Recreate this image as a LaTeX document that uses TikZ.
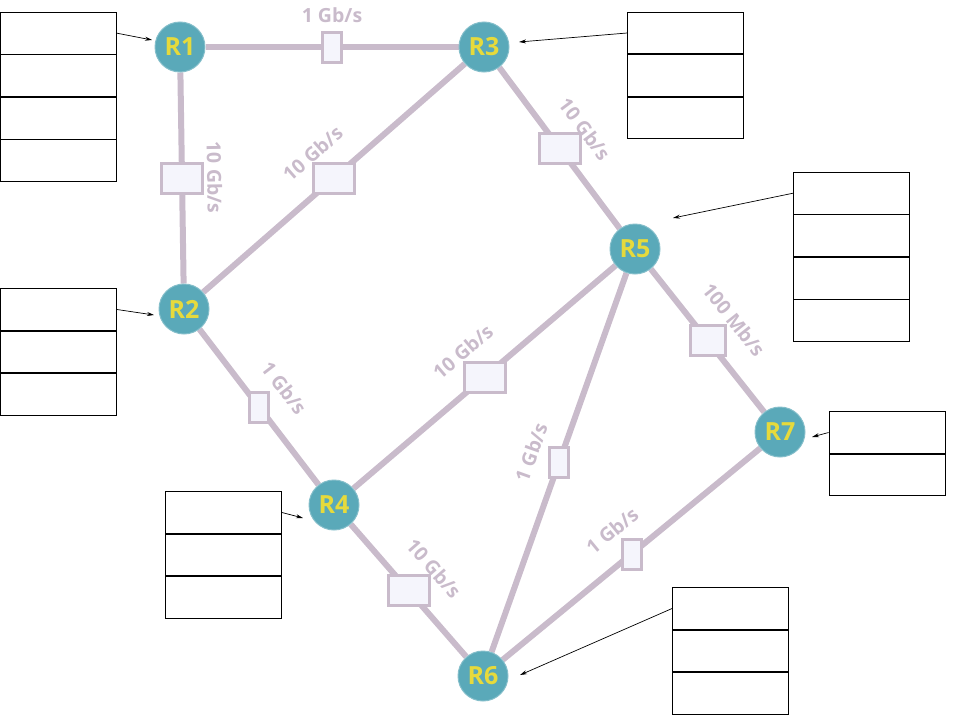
\documentclass[tikz,border=0pt]{standalone}
\usepackage{fontspec}
\setmainfont{Open Sans}
\usepackage{xcolor}
\usepackage{tikz}
\usetikzlibrary{positioning, arrows.meta, backgrounds}
\definecolor{linkcol}{HTML}{C9BBCB}
\definecolor{boxfill}{HTML}{F5F5FC}
\definecolor{routercol}{HTML}{5AA9B9}
\definecolor{routerrim}{HTML}{84BECA}
\definecolor{routertext}{HTML}{E6DA3C}

\begin{document}
\begin{tikzpicture}[x=1pt, y=-1pt,
	router/.style={circle, fill=routercol, draw=routerrim, line width=1pt, minimum size=50pt, inner sep=0pt,
		text=routertext, font=\bfseries\fontsize{25}{28}\selectfont},
	link/.style={linkcol, line width=6pt},
	wide/.style={rectangle, draw=linkcol, fill=boxfill, line width=3pt, minimum width=41pt, minimum height=30pt, inner sep=0pt},
	narrow/.style={wide, minimum width=19pt},
	rate/.style={text=linkcol, font=\bfseries\fontsize{19.5}{22}\selectfont, inner sep=1pt},
	cell/.style={rectangle, draw=black, fill=white, line width=0.9pt, minimum width=116pt, minimum height=41.6pt, inner sep=0pt},
	tip/.style={-{Stealth[length=7pt, width=4pt]}, line width=0.7pt}]
	\useasboundingbox (0,0) rectangle (960,720);
	% routers
	\node[router] at (180,47) (r1) {R1};
	\node[router] at (484,47) (r3) {R3};
	\node[router] at (184,309) (r2) {R2};
	\node[router] at (635,249) (r5) {R5};
	\node[router] at (334,505) (r4) {R4};
	\node[router] at (780,432) (r7) {R7};
	\node[router] at (483,676) (r6) {R6};
	% links, behind the routers
	\begin{pgfonlayer}{background}
	\draw[link] (r1)--(r3) node[midway,narrow] {} node[midway,sloped,above=20pt,rate] {1 Gb/s};
	\draw[link] (r1)--(r2) node[midway,wide] {} node[midway,sloped,above=21pt,rate] {10 Gb/s};
	\draw[link] (r2)--(r3) node[midway,wide] {} node[midway,sloped,above=21pt,rate] {10 Gb/s};
	\draw[link] (r3)--(r5) node[midway,wide] {} node[midway,sloped,above=20pt,rate] {10 Gb/s};
	\draw[link] (r2)--(r4) node[midway,narrow] {} node[midway,sloped,above=20pt,rate] {1 Gb/s};
	\draw[link] (r4)--(r5) node[midway,wide] {} node[midway,sloped,above=22pt,rate] {10 Gb/s};
	\draw[link] (r6)--(r5) node[midway,narrow] {} node[midway,sloped,above=18pt,rate] {1 Gb/s};
	\draw[link] (r5)--(r7) node[midway,wide,minimum width=35pt] {} node[midway,sloped,above=22pt,rate] {100 Mb/s};
	\draw[link] (r4)--(r6) node[midway,wide] {} node[midway,sloped,above=22pt,rate] {10 Gb/s};
	\draw[link] (r6)--(r7) node[midway,narrow] {} node[midway,sloped,above=19pt,rate] {1 Gb/s};
	\end{pgfonlayer}
	% tables
	\node[cell] at (58.5,33.2) (t1a) {};
	\node[cell,below=0pt of t1a] (t1b) {};
	\node[cell,below=0pt of t1b] (t1c) {};
	\node[cell,below=0pt of t1c] (t1d) {};
	\node[cell] at (685.5,33) (t3a) {};
	\node[cell,below=0pt of t3a] (t3b) {};
	\node[cell,below=0pt of t3b] (t3c) {};
	\node[cell] at (851.5,193.2) (t5a) {};
	\node[cell,below=0pt of t5a] (t5b) {};
	\node[cell,below=0pt of t5b] (t5c) {};
	\node[cell,below=0pt of t5c] (t5d) {};
	\node[cell] at (58.5,309.5) (t2a) {};
	\node[cell,below=0pt of t2a] (t2b) {};
	\node[cell,below=0pt of t2b] (t2c) {};
	\node[cell] at (887,432.5) (t7a) {};
	\node[cell,below=0pt of t7a] (t7b) {};
	\node[cell] at (223.5,512.5) (t4a) {};
	\node[cell,below=0pt of t4a] (t4b) {};
	\node[cell,below=0pt of t4b] (t4c) {};
	\node[cell] at (730.5,608.5) (t6a) {};
	\node[cell,below=0pt of t6a] (t6b) {};
	\node[cell,below=0pt of t6b] (t6c) {};
	% arrow ends
	\coordinate (in1) at (152,40);
	\coordinate (in3) at (519,42);
	\coordinate (in5) at (673,218);
	\coordinate (in2) at (154,315);
	\coordinate (in7) at (812,437);
	\coordinate (in4) at (303,518);
	\coordinate (in6) at (520,675);
	\draw[tip] (t1a.east)--(in1);
	\draw[tip] (t3a.west)--(in3);
	\draw[tip] (t5a.west)--(in5);
	\draw[tip] (t2a.east)--(in2);
	\draw[tip] (t7a.west)--(in7);
	\draw[tip] (t4a.east)--(in4);
	\draw[tip] (t6a.west)--(in6);
\end{tikzpicture}
\end{document}
